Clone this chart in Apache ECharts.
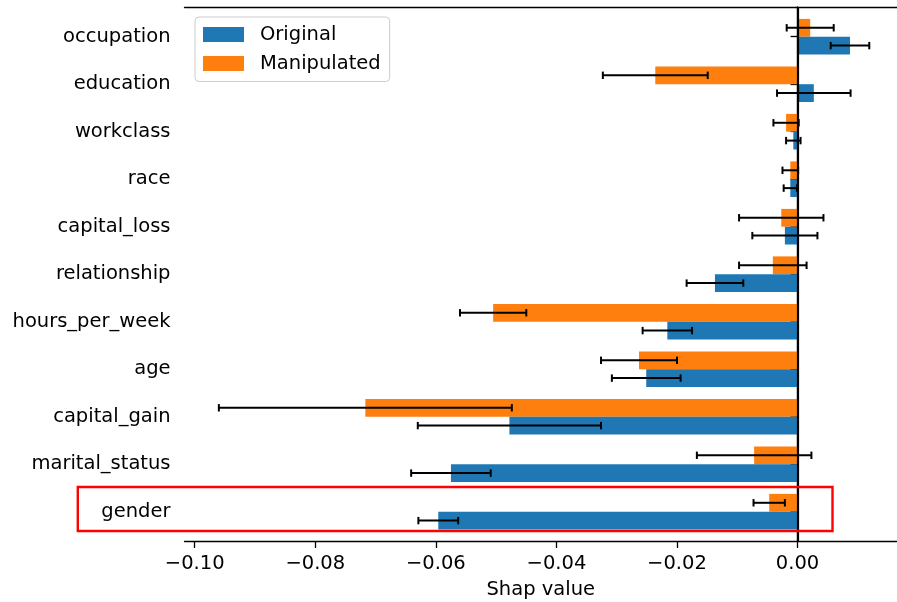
<!DOCTYPE html>
<html>
<head>
<meta charset="utf-8">
<script src="https://cdn.jsdelivr.net/npm/echarts@6/dist/echarts.min.js"></script>
<style>
  html, body { margin: 0; padding: 0; background: #ffffff; }
  #chart { width: 897px; height: 602px; }
</style>
</head>
<body>
<div id="chart"></div>
<script>
// Mean SHAP value per feature, original vs manipulated model, with error bars
const categories = ['occupation', 'education', 'workclass', 'race', 'capital_loss',
  'relationship', 'hours_per_week', 'age', 'capital_gain', 'marital_status', 'gender'];
const original = [0.0087, 0.0027, -0.0007, -0.0012, -0.0021, -0.0137, -0.0216, -0.0251, -0.0478, -0.0575, -0.0596];
const originalErr = [0.0032, 0.0061, 0.0012, 0.0011, 0.0054, 0.0047, 0.0041, 0.0057, 0.0152, 0.0066, 0.0033];
const manipulated = [0.0021, -0.0236, -0.0019, -0.0012, -0.0027, -0.0041, -0.0505, -0.0263, -0.0717, -0.0072, -0.0047];
const manipulatedErr = [0.0039, 0.0087, 0.0021, 0.0013, 0.0070, 0.0056, 0.0055, 0.0063, 0.0243, 0.0095, 0.0026];
const xTicks = [-0.10, -0.08, -0.06, -0.04, -0.02, 0.00];
const highlighted = 'gender';

const FONT = 'DejaVu Sans';
const FS = 19.5;
const X_MIN = -0.1017;
const X_MAX = 0.0165;
const BLUE = '#1f77b4';
const ORANGE = '#ff7f0e';

function fmtTick(v) {
  const s = Math.abs(v).toFixed(2);
  return (v < -1e-12 ? '\u2212' : '') + s;
}

// error bar rows: [category index, value, half-width, side (-1 upper bar, +1 lower bar)]
const errRows = [];
categories.forEach(function (c, i) {
  errRows.push([i, manipulated[i], manipulatedErr[i], -1]);
  errRows.push([i, original[i], originalErr[i], 1]);
});

function renderErr(params, api) {
  const cat = api.value(0), v = api.value(1), e = api.value(2), side = api.value(3);
  const band = api.size([0, 1])[1];
  const y = api.coord([v, cat])[1] + side * band * 0.1875;
  const xl = api.coord([v - e, cat])[0];
  const xr = api.coord([v + e, cat])[0];
  const cap = 3.7;
  const style = { stroke: '#000000', lineWidth: 2 };
  return {
    type: 'group',
    children: [
      { type: 'line', shape: { x1: xl, y1: y, x2: xr, y2: y }, style: style },
      { type: 'line', shape: { x1: xl, y1: y - cap, x2: xl, y2: y + cap }, style: style },
      { type: 'line', shape: { x1: xr, y1: y - cap, x2: xr, y2: y + cap }, style: style }
    ]
  };
}

// red frame around the highlighted feature row, reaching out over its label
function renderHighlight(params, api) {
  const cat = api.value(0);
  const band = api.size([0, 1])[1];
  const l = api.coord([api.value(1), cat]);
  const r = api.coord([api.value(2), cat]);
  return {
    type: 'rect',
    shape: { x: l[0], y: l[1] - 0.52 * band, width: r[0] - l[0], height: 0.926 * band },
    style: { fill: 'none', stroke: '#ff0000', lineWidth: 2.4 }
  };
}

const chart = echarts.init(document.getElementById('chart'), null, { renderer: 'canvas' });

const blackLine = { show: true, lineStyle: { color: '#000000', width: 1.3 } };

chart.setOption({
  animation: false,
  backgroundColor: '#ffffff',
  textStyle: { fontFamily: FONT },
  grid: [
    { left: 184.5, right: 0, top: 7, bottom: 61, outerBoundsMode: 'none', containLabel: false },
    { left: 184.5, right: 0, top: 12.95, bottom: 66.55, outerBoundsMode: 'none', containLabel: false }
  ],
  legend: {
    data: ['Original', 'Manipulated'],
    orient: 'vertical',
    left: 195,
    top: 17,
    padding: [7.5, 9, 8, 8],
    itemWidth: 41,
    itemHeight: 15,
    itemGap: 9,
    icon: 'rect',
    backgroundColor: 'rgba(255,255,255,0.8)',
    borderColor: '#cccccc',
    borderWidth: 1,
    borderRadius: 4,
    textStyle: { fontFamily: FONT, fontSize: FS, color: '#000000', padding: [0, 0, 0, 11] }
  },
  xAxis: [
    {
      type: 'value', gridIndex: 0, position: 'bottom', min: X_MIN, max: X_MAX,
      name: 'Shap value', nameLocation: 'middle', nameGap: 39, nameMoveOverlap: false,
      nameTextStyle: { fontFamily: FONT, fontSize: FS, color: '#000000' },
      axisLine: blackLine,
      axisTick: { show: true, length: 7, lineStyle: { color: '#000000', width: 1.3 }, customValues: xTicks },
      axisLabel: { show: true, margin: 13, fontFamily: FONT, fontSize: FS, color: '#000000', customValues: xTicks, formatter: fmtTick },
      splitLine: { show: false }
    },
    {
      type: 'value', gridIndex: 0, position: 'top', min: X_MIN, max: X_MAX,
      axisLine: blackLine, axisTick: { show: false }, axisLabel: { show: false }, splitLine: { show: false }
    },
    {
      type: 'value', gridIndex: 1, min: X_MIN, max: X_MAX, show: false
    }
  ],
  yAxis: [
    {
      type: 'value', gridIndex: 0, position: 'left', min: 0, max: 1,
      axisLine: blackLine, axisTick: { show: false }, axisLabel: { show: false }, splitLine: { show: false }
    },
    {
      type: 'category', gridIndex: 1, data: categories, inverse: true,
      axisLine: { show: false },
      axisTick: { show: true, alignWithLabel: true, length: 7, lineStyle: { color: '#000000', width: 1.3 } },
      axisLabel: { show: true, margin: 14, fontFamily: FONT, fontSize: FS, color: '#000000', padding: [6, 0, 0, 0] },
      splitLine: { show: false }
    }
  ],
  series: [
    {
      name: 'Manipulated', type: 'bar', xAxisIndex: 2, yAxisIndex: 1,
      data: manipulated, barWidth: '37.5%', barGap: '0%',
      itemStyle: { color: ORANGE }, z: 2
    },
    {
      name: 'Original', type: 'bar', xAxisIndex: 2, yAxisIndex: 1,
      data: original, barWidth: '37.5%', barGap: '0%',
      itemStyle: { color: BLUE }, z: 2
    },
    {
      name: 'zero', type: 'line', xAxisIndex: 0, yAxisIndex: 0, data: [], z: 4,
      markLine: {
        silent: true, symbol: 'none', animation: false,
        label: { show: false },
        lineStyle: { color: '#000000', width: 2.2, type: 'solid' },
        data: [{ xAxis: 0 }]
      }
    },
    {
      name: 'errors', type: 'custom', xAxisIndex: 2, yAxisIndex: 1, z: 5,
      renderItem: renderErr, data: errRows, silent: true
    },
    {
      name: 'highlight', type: 'custom', xAxisIndex: 2, yAxisIndex: 1, z: 6, clip: false,
      renderItem: renderHighlight,
      data: [[categories.indexOf(highlighted), -0.1194, 0.0058]], silent: true
    }
  ]
});
</script>
</body>
</html>
